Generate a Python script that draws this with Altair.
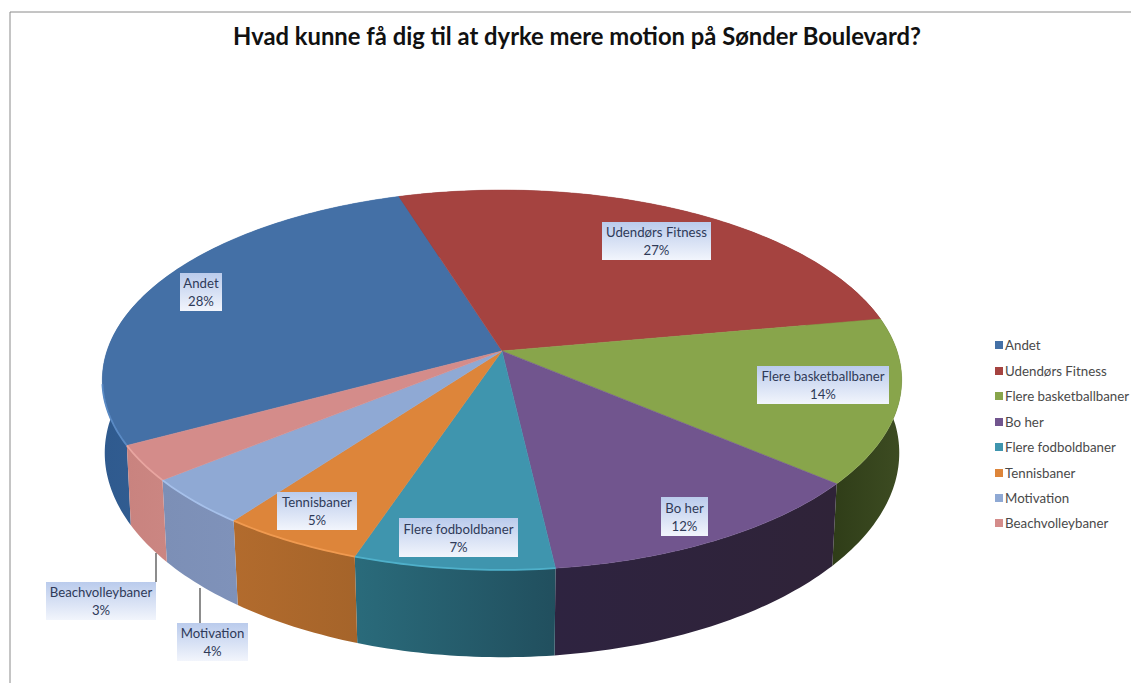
import math
import altair as alt
import pandas as pd

# Survey answers, in pie order (clockwise)
CATEGORIES = ["Andet", "Udendørs Fitness", "Flere basketballbaner", "Bo her",
              "Flere fodboldbaner", "Tennisbaner", "Motivation", "Beachvolleybaner"]
SHARES = [28, 27, 14, 12, 7, 5, 4, 3]
TITLE = "Hvad kunne få dig til at dyrke mere motion på Sønder Boulevard?"

# Look of each slice: top face, wall gradient (left to right), rim highlight
TOP_COLORS = ["#4470A6", "#A54340", "#88A54B", "#71558E", "#3F95AE", "#DD853A", "#8FA9D4", "#D48C8A"]
WALL_COLORS = [("#2F5A8E", "#3F6EA8"), ("#7A302E", "#7A302E"), ("#2F3D18", "#3D4C22"),
               ("#2E2340", "#2F2338"), ("#2A6B7B", "#214F5E"), ("#B26B2D", "#A5642A"),
               ("#7C8FB6", "#7F92BA"), ("#C9837F", "#CB8682")]
RIM_COLORS = ["#5A8AC4", None, None, None, "#4FB0CA", "#F09A50", "#A6C0EA", "#E8A5A0"]

# Label boxes: left, right, top, bottom
LABEL_BOXES = [(180, 222, 273, 311), (602, 711, 222, 260), (757, 889, 366, 404), (661, 708, 497, 536),
               (399, 518, 518, 557), (277, 357, 492, 530), (177, 248, 623, 661), (46, 156, 582, 620)]
LEGEND_Y = [346, 372, 397, 423, 448, 474, 499, 524]
LEADERS = [(156, 553, 582), (200, 588, 623)]

W, H = 1131, 683

# Perspective view of the pie disc
APEX_X, APEX_Y = 502, 351
RADIUS_X, RADIUS_Y = 395, 185.5
TILT = 0.1525
START_DEG = -118.2
DEPTH = 74


def top_point(deg):
    a = math.radians(deg)
    u, v = math.sin(a), -math.cos(a)
    w = 1 - TILT * v
    return APEX_X + RADIUS_X * u / w, APEX_Y + RADIUS_Y * v / w, w


def foot_point(deg):
    x, y, w = top_point(deg)
    # The lower face narrows towards the front of the disc
    v = -math.cos(math.radians(deg))
    inset = 0.996 - 0.014 * max(v, 0)
    return APEX_X + (x - APEX_X) * inset, y + DEPTH / w


def arc(start, end, fn):
    steps = max(2, int(abs(end - start)))
    return [list(fn(start + (end - start) * i / steps))[:2] for i in range(steps + 1)]


def feature(kind, coords):
    return {"type": "Feature", "properties": {},
            "geometry": {"type": kind, "coordinates": coords}}


projection = alt.Projection(type="identity", scale=1, translate=[0, 0])


def shape(geo, **mark):
    return alt.Chart(alt.Data(values=[geo])).mark_geoshape(**mark).project(**projection.to_dict())


walls, tops, rims = [], [], []
deg = START_DEG
spans = []
for share in SHARES:
    spans.append((deg, deg + share * 3.6))
    deg += share * 3.6

for i, (a, b) in enumerate(spans):
    upper = arc(a, b, top_point)
    lower = arc(a, b, foot_point)
    outline = upper + lower[::-1] + upper[:1]
    fill = alt.LinearGradient(gradient="linear", x1=0, x2=1, y1=0, y2=0, stops=[
        alt.GradientStop(offset=0, color=WALL_COLORS[i][0]),
        alt.GradientStop(offset=1, color=WALL_COLORS[i][1])])
    walls.append(shape(feature("Polygon", [outline]), fill=fill, stroke=None))
    wedge = [[APEX_X, APEX_Y]] + upper + [[APEX_X, APEX_Y]]
    tops.append(shape(feature("Polygon", [wedge]), fill=TOP_COLORS[i],
                      stroke=TOP_COLORS[i], strokeWidth=0.5))
    if RIM_COLORS[i]:
        # Only the front part of the rim catches the light
        lo, hi = (a, -100) if a < -90 else (a, b)
        rims.append(shape(feature("LineString", arc(lo, hi, top_point)),
                          fill=None, filled=False, stroke=RIM_COLORS[i], strokeWidth=1.8))

x_px = alt.Scale(domain=[0, W], range=[0, W])
y_px = alt.Scale(domain=[0, H], range=[0, H])
X = alt.X("x:Q", scale=x_px, axis=None)
X2 = alt.X2("x2:Q")
Y = alt.Y("y:Q", scale=y_px, axis=None)
Y2 = alt.Y2("y2:Q")

box_df = pd.DataFrame({
    "x": [b[0] for b in LABEL_BOXES], "x2": [b[1] for b in LABEL_BOXES],
    "y": [b[2] for b in LABEL_BOXES], "y2": [b[3] for b in LABEL_BOXES],
    "cx": [(b[0] + b[1]) / 2 for b in LABEL_BOXES],
    "cy": [(b[2] + b[3]) / 2 for b in LABEL_BOXES],
    "label": [f"{c}\n{s}%" for c, s in zip(CATEGORIES, SHARES)],
})
box_fill = alt.LinearGradient(gradient="linear", x1=0, x2=0, y1=0, y2=1, stops=[
    alt.GradientStop(offset=0, color="#BACBEC"),
    alt.GradientStop(offset=1, color="#F2F5FC")])
boxes = alt.Chart(box_df).mark_rect(fill=box_fill).encode(x=X, x2=X2, y=Y, y2=Y2)
box_text = alt.Chart(box_df).mark_text(
    font="Lato", fontSize=13.2, color="#2F3A58", lineBreak="\n", lineHeight=18, dy=-8,
    align="center", baseline="middle"
).encode(x=alt.X("cx:Q", scale=x_px, axis=None), y=alt.Y("cy:Q", scale=y_px, axis=None),
         text="label:N")

leader_df = pd.DataFrame({"x": [l[0] for l in LEADERS], "y": [l[1] for l in LEADERS],
                          "y2": [l[2] for l in LEADERS]})
leaders = alt.Chart(leader_df).mark_rule(color="#404040", strokeWidth=1.2).encode(x=X, y=Y, y2=Y2)

legend_df = pd.DataFrame({
    "x": 995, "x2": 1003, "y": [v - 5 for v in LEGEND_Y], "y2": [v + 3 for v in LEGEND_Y],
    "tx": 1005, "ty": LEGEND_Y, "name": CATEGORIES, "color": TOP_COLORS,
})
legend_marks = alt.Chart(legend_df).mark_rect().encode(
    x=X, x2=X2, y=Y, y2=Y2, color=alt.Color("color:N", scale=None))
legend_text = alt.Chart(legend_df).mark_text(
    font="Lato", fontSize=13.3, color="#4A4A4A", align="left", baseline="middle"
).encode(x=alt.X("tx:Q", scale=x_px, axis=None), y=alt.Y("ty:Q", scale=y_px, axis=None), text="name:N")

title_df = pd.DataFrame({"x": [577], "y": [38], "t": [TITLE]})
title = alt.Chart(title_df).mark_text(
    font="Lato", fontSize=23.8, fontWeight="bold", color="#111111", align="center", baseline="middle"
).encode(x=X, y=Y, text="t:N")

frame_df = pd.DataFrame({"x": [10], "x2": [W], "y": [12], "y2": [12]})
frame_top = alt.Chart(frame_df).mark_rule(color="#8A8A8A", strokeWidth=1).encode(x=X, x2=X2, y=Y)
frame_left = alt.Chart(pd.DataFrame({"x": [10], "y": [12], "y2": [H]})).mark_rule(
    color="#8A8A8A", strokeWidth=1).encode(x=X, y=Y, y2=Y2)

chart = alt.layer(
    frame_top, frame_left, title, *walls, *tops, *rims, leaders, boxes, box_text,
    legend_marks, legend_text
).properties(
    width=W, height=H, padding=0,
    autosize=alt.AutoSizeParams(type="none"),
    background="white",
).configure_view(stroke=None)

chart.save("out.html", embed_options={"renderer": "svg", "actions": False})
